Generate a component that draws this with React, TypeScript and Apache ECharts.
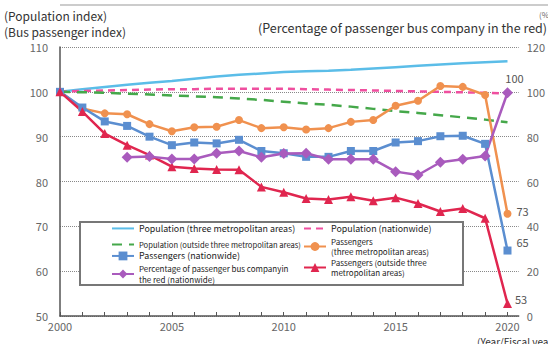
import React, { useEffect, useRef } from "react";
import * as echarts from "echarts";

const years = [2000, 2001, 2002, 2003, 2004, 2005, 2006, 2007, 2008, 2009, 2010, 2011, 2012, 2013, 2014, 2015, 2016, 2017, 2018, 2019, 2020];
const xLabelYears = [2000, 2005, 2010, 2015, 2020];

const popThreeMetro = [100, 100.6, 101.1, 101.6, 102.0, 102.4, 102.9, 103.4, 103.8, 104.1, 104.4, 104.6, 104.7, 104.9, 105.2, 105.5, 105.8, 106.1, 106.4, 106.6, 106.8];
const popNationwide = [100, 100.2, 100.3, 100.4, 100.5, 100.6, 100.6, 100.7, 100.7, 100.7, 100.7, 100.6, 100.5, 100.4, 100.3, 100.2, 100.1, 100.0, 99.9, 99.8, 99.6];
const popOutside = [100, 99.9, 99.8, 99.6, 99.4, 99.2, 99.0, 98.8, 98.5, 98.2, 97.8, 97.4, 97.1, 96.7, 96.2, 95.7, 95.3, 94.8, 94.3, 93.8, 93.2];
const passNationwide = [100, 96.5, 93.4, 92.4, 90.0, 88.1, 88.7, 88.5, 89.3, 86.8, 86.3, 85.5, 85.5, 86.8, 86.8, 88.7, 89.0, 90.1, 90.2, 88.4, 64.6];
const passThreeMetro = [100, 96.3, 95.2, 95.0, 92.8, 91.2, 92.1, 92.2, 93.7, 91.9, 92.1, 91.6, 91.9, 93.3, 93.7, 96.9, 98.0, 101.3, 101.1, 99.3, 72.8];
const passOutside = [100, 95.6, 90.7, 88.1, 85.9, 83.3, 82.9, 82.7, 82.6, 78.8, 77.6, 76.2, 76.0, 76.6, 75.7, 76.4, 75.1, 73.3, 74.0, 71.8, 52.8];
const redPctYears = [2003, 2004, 2005, 2006, 2007, 2008, 2009, 2010, 2011, 2012, 2013, 2014, 2015, 2016, 2017, 2018, 2019, 2020];
const redPct = [70.8, 71.1, 70.0, 70.0, 72.6, 73.6, 70.8, 72.5, 72.6, 69.9, 69.9, 69.9, 64.4, 62.9, 68.6, 69.9, 71.4, 99.6];

const N_POP3 = "Population (three metropolitan areas)";
const N_POPN = "Population (nationwide)";
const N_POPO = "Population (outside three metropolitan areas)";
const N_PASS3 = "Passengers\n(three metropolitan areas)";
const N_PASSN = "Passengers (nationwide)";
const N_PASSO = "Passengers (outside three\nmetropolitan areas)";
const N_RED = "Percentage of passenger bus companyin\nthe red (nationwide)";

const FONT = "'Noto Sans CJK JP', 'Noto Sans', sans-serif";
const CLEAR = "rgba(0,0,0,0)";

function pairs(xs: number[], vs: number[], endLabel: any) {
  return vs.map((v, i) =>
    i === vs.length - 1
      ? {
          value: [xs[i], v],
          label: {
            show: true,
            color: "#555",
            fontSize: 11,
            fontFamily: FONT,
            formatter: (p: any) => String(Math.round(p.value[1])),
            ...endLabel,
          },
        }
      : [xs[i], v]
  );
}

function legendRow(name: string, left: number, top: number, text: any) {
  return {
    orient: "vertical",
    left,
    top,
    itemWidth: 22,
    itemHeight: 11,
    padding: 0,
    textStyle: { fontSize: 8.9, color: "#222", fontFamily: FONT, ...text },
    data: [name],
    z: 5,
  };
}

export default function App() {
  const ref = useRef<HTMLDivElement>(null);
  useEffect(() => {
    if (!ref.current) return;
    const chart = echarts.init(ref.current, undefined, { renderer: "svg" });
    const two = { fontSize: 8, lineHeight: 10.5 };
    const option: any = {
      animation: false,
      textStyle: { fontFamily: FONT },
      grid: { left: 60, top: 47, width: 462, height: 269 },
      xAxis: {
        type: "value",
        min: 2000,
        max: 2020.5,
        interval: 1,
        axisLine: { show: true, lineStyle: { color: "#555", width: 1.5 } },
        axisTick: { show: true, inside: true, length: 4, customValues: years, lineStyle: { color: "#555" } },
        axisLabel: {
          customValues: xLabelYears,
          formatter: (v: number) => (v % 5 === 0 ? String(v) : ""),
          color: "#666",
          fontSize: 11,
          margin: 4,
        },
        splitLine: { show: false },
      },
      yAxis: [
        {
          type: "value",
          min: 50,
          max: 110,
          interval: 10,
          axisLine: { show: true, lineStyle: { color: "#555", width: 1.5 } },
          axisTick: { show: false },
          axisLabel: { color: "#666", fontSize: 11, margin: 12 },
          splitLine: { show: true, lineStyle: { color: "#888", type: [1, 1], width: 1 } },
        },
        {
          type: "value",
          position: "right",
          min: 0,
          max: 120,
          interval: 20,
          axisLine: { show: false },
          axisTick: { show: false },
          axisLabel: { color: "#666", fontSize: 11, margin: 8 },
          splitLine: { show: false },
        },
      ],
      legend: [
        legendRow(N_POP3, 111, 224, {}),
        legendRow(N_POPO, 111, 240, { fontSize: 7.6 }),
        legendRow(N_PASSN, 111, 251.5, {}),
        legendRow(N_RED, 111, 263.5, two),
        legendRow(N_POPN, 303, 224, {}),
        legendRow(N_PASS3, 303, 236, two),
        legendRow(N_PASSO, 303, 257, two),
      ],
      graphic: [
        { type: "line", shape: { x1: 60, y1: 5, x2: 548, y2: 5 }, style: { stroke: "#999", lineWidth: 1 }, z: 1 },
        { type: "rect", shape: { x: 80, y: 222, width: 383, height: 63 }, style: { fill: "#fff", stroke: "#777", lineWidth: 2 }, z: 1 },
        { type: "text", left: 4, top: 9, style: { text: "(Population index)", fontSize: 12, fill: "#333", fontFamily: FONT } },
        { type: "text", left: 4, top: 25, style: { text: "(Bus passenger index)", fontSize: 12, fill: "#333", fontFamily: FONT } },
        { type: "text", left: 258, top: 21, style: { text: "(Percentage of passenger bus company in the red)", fontSize: 12.5, fill: "#333", fontFamily: FONT } },
        { type: "text", left: 539, top: 10, style: { text: "(%)", fontSize: 8, fill: "#666", fontFamily: FONT } },
        { type: "text", left: 477, top: 336, style: { text: "(Year/Fiscal year)", fontSize: 10, fill: "#333", fontFamily: FONT } },
      ],
      series: [
        {
          name: N_POP3,
          type: "line",
          data: pairs(years, popThreeMetro, { position: "top", offset: [8, 2] }),
          symbol: "none",
          lineStyle: { color: "#5bbde8", width: 2.5 },
          itemStyle: { color: CLEAR },
        },
        {
          name: N_POPN,
          type: "line",
          data: pairs(years, popNationwide, { show: false }),
          symbol: "none",
          lineStyle: { color: "#ef4f9f", width: 2.5, type: [7, 5] },
          itemStyle: { color: CLEAR },
        },
        {
          name: N_POPO,
          type: "line",
          data: pairs(years, popOutside, { position: "right", distance: 4, offset: [0, -3] }),
          symbol: "none",
          lineStyle: { color: "#45a84a", width: 2.5, type: [10, 7] },
          itemStyle: { color: CLEAR },
        },
        {
          name: N_PASS3,
          type: "line",
          data: pairs(years, passThreeMetro, { position: "right", distance: 5, offset: [0, -3] }),
          symbol: "circle",
          symbolSize: 8,
          lineStyle: { color: "#f0914f", width: 2.5 },
          itemStyle: { color: "#f0914f" },
        },
        {
          name: N_PASSN,
          type: "line",
          data: pairs(years, passNationwide, { position: "right", distance: 5, offset: [0, -9] }),
          symbol: "rect",
          symbolSize: 8,
          lineStyle: { color: "#5b8ed0", width: 2.5 },
          itemStyle: { color: "#5b8ed0" },
        },
        {
          name: N_PASSO,
          type: "line",
          data: pairs(years, passOutside, { position: "right", distance: 3, offset: [0, -4] }),
          symbol: "triangle",
          symbolSize: 9,
          lineStyle: { color: "#e0264f", width: 2.5 },
          itemStyle: { color: "#e0264f" },
        },
        {
          name: N_RED,
          type: "line",
          yAxisIndex: 1,
          data: pairs(redPctYears, redPct, { position: "top", offset: [7, 1] }),
          symbol: "diamond",
          symbolSize: 11,
          lineStyle: { color: "#a95bbd", width: 2.5 },
          itemStyle: { color: "#a95bbd" },
        },
      ],
    };
    chart.setOption(option);
    return () => chart.dispose();
  }, []);
  return (
    <div
      ref={ref}
      style={{ position: "fixed", left: 0, top: 0, width: 548, height: 344, background: "#fff" }}
    />
  );
}
